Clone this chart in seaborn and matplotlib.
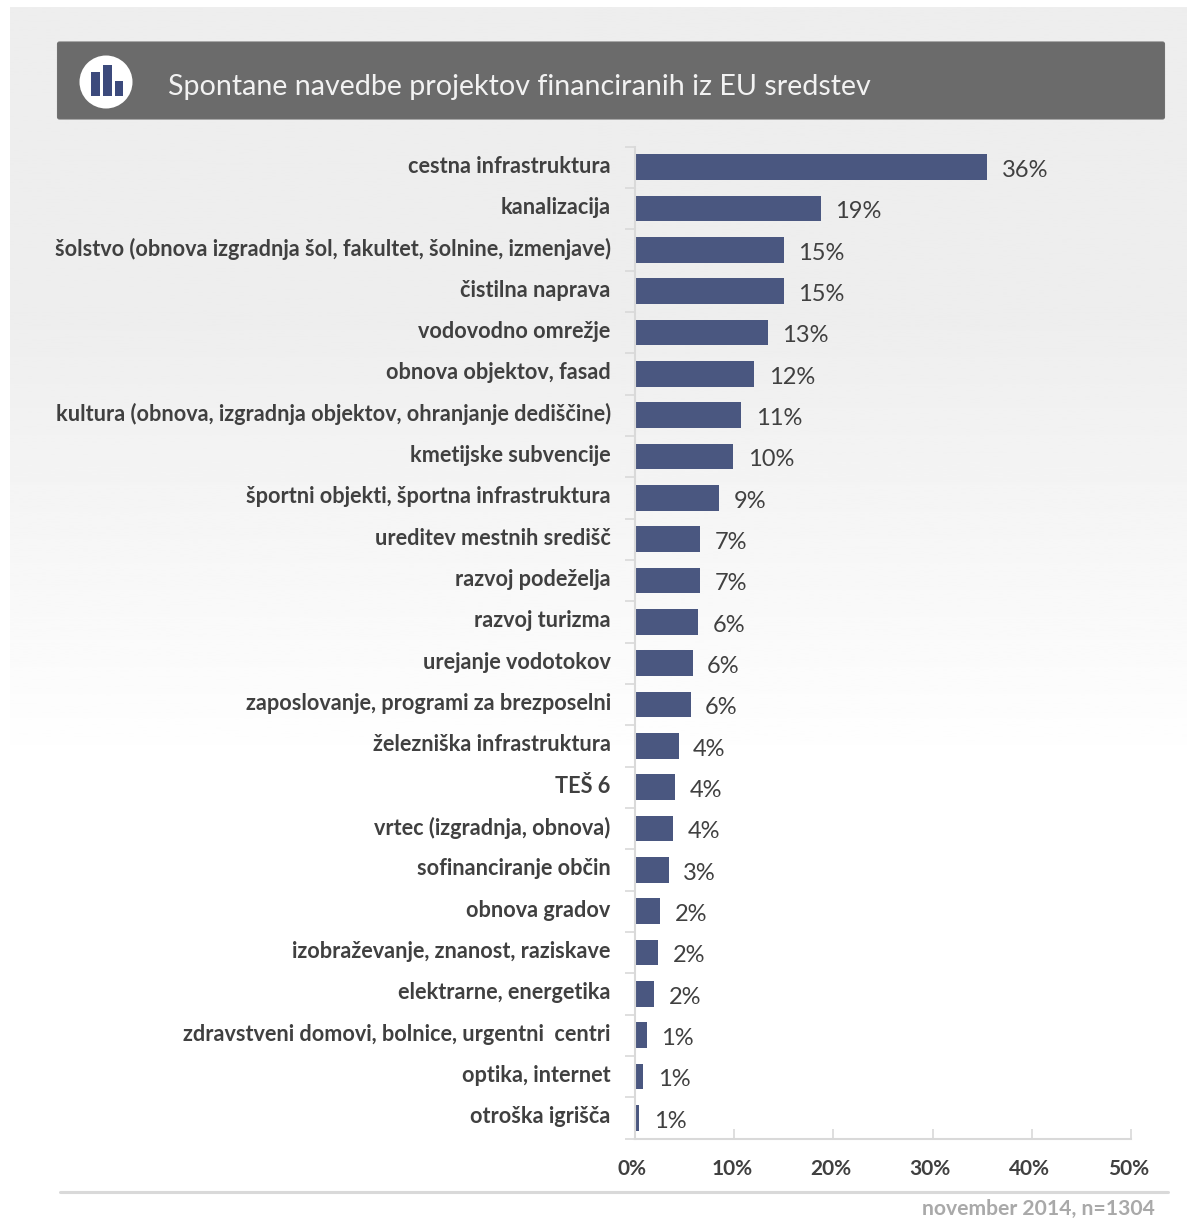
import numpy as np
import pandas as pd
import matplotlib.pyplot as plt
import matplotlib.transforms as mtransforms
from matplotlib.patches import Circle, FancyBboxPatch, Rectangle
import seaborn as sns

# Data
categories = [
    'cestna infrastruktura', 'kanalizacija',
    'šolstvo (obnova izgradnja šol, fakultet, šolnine, izmenjave)',
    'čistilna naprava', 'vodovodno omrežje', 'obnova objektov, fasad',
    'kultura (obnova, izgradnja objektov, ohranjanje dediščine)',
    'kmetijske subvencije', 'športni objekti, športna infrastruktura',
    'ureditev mestnih središč', 'razvoj podeželja', 'razvoj turizma',
    'urejanje vodotokov', 'zaposlovanje, programi za brezposelni',
    'železniška infrastruktura', 'TEŠ 6', 'vrtec (izgradnja, obnova)',
    'sofinanciranje občin', 'obnova gradov',
    'izobraževanje, znanost, raziskave', 'elektrarne, energetika',
    'zdravstveni domovi, bolnice, urgentni  centri', 'optika, internet',
    'otroška igrišča',
]
values = [35.5, 18.7, 15.0, 15.0, 13.4, 12.0, 10.7, 9.9, 8.5, 6.6, 6.6, 6.4,
          5.8, 5.6, 4.4, 4.0, 3.8, 3.4, 2.5, 2.3, 1.9, 1.2, 0.8, 0.4]
value_labels = ['36%', '19%', '15%', '15%', '13%', '12%', '11%', '10%', '9%',
                '7%', '7%', '6%', '6%', '6%', '4%', '4%', '4%', '3%', '2%',
                '2%', '2%', '1%', '1%', '1%']
x_ticks = [0, 10, 20, 30, 40, 50]

W, H = 1187, 1219
BAR_COLOR = '#4a5780'
GRID_COLOR = '#d9d9d9'
TEXT_COLOR = '#404040'

sns.set_theme(style='white')
plt.rcParams['font.family'] = ['Lato', 'DejaVu Sans']

fig = plt.figure(figsize=(W / 100, H / 100), dpi=100, facecolor='white')

# Background layer in pixel coordinates
bg = fig.add_axes([0, 0, 1, 1], zorder=0)
bg.set_xlim(0, W)
bg.set_ylim(H, 0)
bg.axis('off')

# Grey panel fading out to white
fade = np.linspace(0, 1, 256).reshape(-1, 1)
fade = np.clip((fade - 0.42) / 0.58, 0, 1)
bg.imshow(fade, extent=[10, W, 770, 7], cmap=plt.cm.gray, vmin=-14, vmax=1,
          aspect='auto', zorder=0)
bg.set_xlim(0, W)
bg.set_ylim(H, 0)

# Header
bg.add_patch(FancyBboxPatch((57.5, 42), 1107, 77, boxstyle='round,pad=0,rounding_size=2',
                            fc='#6b6b6b', ec='#707070', lw=0.8, zorder=1))
bg.add_patch(Circle((106, 82), 26.5, fc='white', ec='none', zorder=2))
for x0, y0, w, h in [(91, 72, 9, 24), (103, 65, 9, 31), (115, 81, 8, 15)]:
    bg.add_patch(Rectangle((x0, y0), w, h, fc='#3c4a7c', ec='none', zorder=3))
bg.text(168, 87, 'Spontane navedbe projektov financiranih iz EU sredstev',
        color='#f2f2f2', fontsize=20.6, va='center', ha='left', zorder=3)

# Footer
bg.plot([60, 1168], [1192, 1192], color=GRID_COLOR, lw=2.2, zorder=1)
bg.text(1155, 1209, 'november 2014, n=1304', color='#a9a9a9', fontsize=15.2,
        fontweight='bold', va='center', ha='right', zorder=3)

# Main chart
ax_left, ax_right = 635, 1131
ax_top, ax_bottom = 146.5, 1138.5
ax = fig.add_axes([ax_left / W, 1 - ax_bottom / H, (ax_right - ax_left) / W,
                   (ax_bottom - ax_top) / H], zorder=2)
ax.patch.set_alpha(0)

df = pd.DataFrame({'category': categories, 'value': values})
sns.barplot(data=df, x='value', y='category', color=BAR_COLOR, saturation=1,
            width=0.62, orient='h', linewidth=0, ax=ax)

ax.set_xlim(0, 50)
ax.set_ylim(len(categories) - 0.5, -0.5)
ax.set_xlabel('')
ax.set_ylabel('')

for s in ['top', 'right']:
    ax.spines[s].set_visible(False)
for s in ['left', 'bottom']:
    ax.spines[s].set_color(GRID_COLOR)
    ax.spines[s].set_linewidth(1.5)

# x axis ticks point up into the plot, labels sit well below
ax.set_xticks(x_ticks)
ax.set_xticklabels([f'{t}%' for t in x_ticks])
ax.tick_params(axis='x', direction='in', length=7, width=1.2, color=GRID_COLOR,
               pad=14.5, labelsize=15, labelcolor=TEXT_COLOR, bottom=True)
left = mtransforms.ScaledTranslation(-2.5 / 100, 0, fig.dpi_scale_trans)
for lab in ax.get_xticklabels():
    lab.set_fontweight('bold')
    lab.set_transform(lab.get_transform() + left)

# y axis: ticks between the categories, labels on the category centres
ax.set_yticks(range(len(categories)))
ax.set_yticks(np.arange(len(categories) + 1) - 0.5, minor=True)
ax.tick_params(axis='y', which='major', length=0, pad=17.5, labelsize=15.6,
               labelcolor=TEXT_COLOR)
ax.tick_params(axis='y', which='minor', direction='out', length=7, width=1.2,
               color=GRID_COLOR, left=True)
up = mtransforms.ScaledTranslation(0, 3 / 100, fig.dpi_scale_trans)
for lab in ax.get_yticklabels():
    lab.set_fontweight('bold')
    lab.set_transform(lab.get_transform() + up)

# Value labels
for i, (v, lab) in enumerate(zip(values, value_labels)):
    ax.annotate(lab, xy=(v, i), xytext=(10.5, -2.5), textcoords='offset points',
                va='center', ha='left', fontsize=17, color=TEXT_COLOR)

fig.savefig('out.png', dpi=100, facecolor='white')
plt.close(fig)
